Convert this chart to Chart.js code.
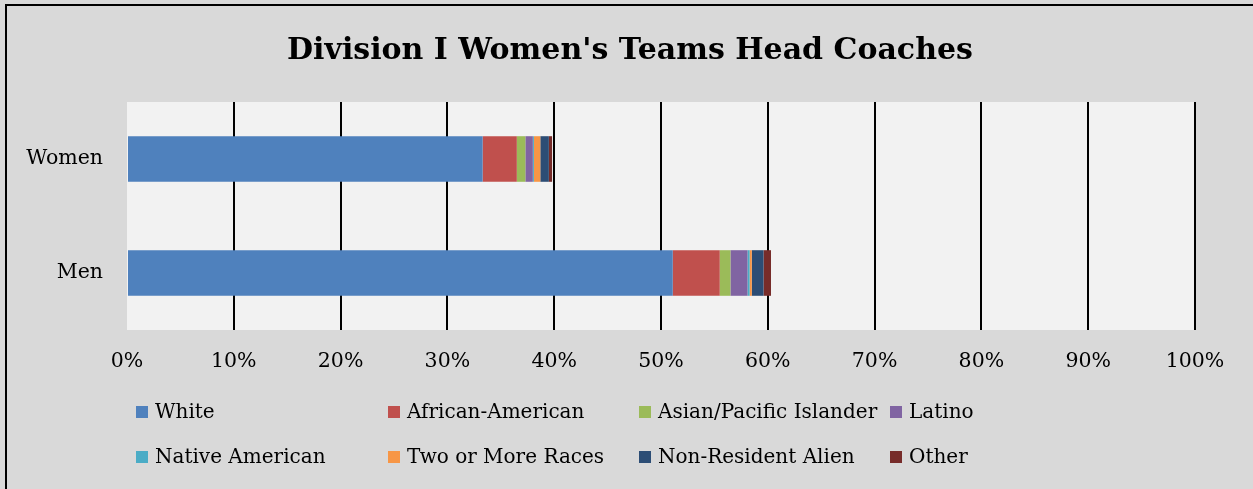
<!DOCTYPE html>
<html>
<head>
<meta charset="utf-8">
<script src="https://cdn.jsdelivr.net/npm/chart.js@4/dist/chart.umd.min.js"></script>
<style>
  html, body { margin: 0; padding: 0; background: #d9d9d9; }
  #wrap { position: relative; width: 1253px; height: 489px; overflow: hidden; background: #d9d9d9; }
  #frame { position: absolute; left: 5px; top: 4px; width: 1260px; height: 500px; border-left: 2px solid #000; border-top: 2px solid #000; }
  canvas { position: absolute; left: 7px; top: 0; }
  .leg { position: absolute; font-family: "DejaVu Serif", serif; font-size: 20px; color: #000; white-space: nowrap; }
  .leg span { display: inline-block; width: 12px; height: 12px; margin-right: 7px; vertical-align: 0px; }
</style>
</head>
<body>
<div id="wrap">
  <canvas id="chart" width="1246" height="489"></canvas>
  <div id="frame"></div>
  <div id="legend"></div>
</div>
<script>
const categories = ["Women", "Men"];
const seriesNames = ["White", "African-American", "Asian/Pacific Islander", "Latino",
                     "Native American", "Two or More Races", "Non-Resident Alien", "Other"];
const white    = [33.3, 51.1];
const african  = [3.2, 4.4];
const asian    = [0.8, 1.0];
const latino   = [0.7, 1.6];
const native   = [0.1, 0.2];
const twoMore  = [0.6, 0.2];
const nonRes   = [0.8, 1.1];
const other    = [0.3, 0.7];
const xTicks = [0, 10, 20, 30, 40, 50, 60, 70, 80, 90, 100];

const colors = ["#4f81bd", "#c0504d", "#9bbb59", "#8064a2", "#4bacc6", "#f79646", "#2c4d75", "#772c2a"];
const values = [white, african, asian, latino, native, twoMore, nonRes, other];

const datasets = seriesNames.map((name, i) => ({
  label: name,
  data: values[i],
  backgroundColor: colors[i],
  borderWidth: 0,
  barPercentage: 0.4,
  categoryPercentage: 1.0
}));

// light grey plot area
const plotBg = {
  id: "plotBg",
  beforeDraw(chart){
    const a = chart.chartArea, c = chart.ctx;
    c.save();
    c.fillStyle = "#f2f2f2";
    c.fillRect(a.left, a.top, a.right - a.left, a.bottom - a.top);
    c.restore();
  }
};

const serif = "'DejaVu Serif', serif";

new Chart(document.getElementById("chart"), {
  type: "bar",
  data: { labels: categories, datasets },
  plugins: [plotBg],
  options: {
    indexAxis: "y",
    responsive: false,
    animation: false,
    layout: { padding: { left: 0, right: 0, top: 0, bottom: 109 } },
    plugins: {
      legend: { display: false },
      tooltip: { enabled: false },
      title: {
        display: true,
        text: "Division I Women's Teams Head Coaches",
        color: "#000",
        font: { family: serif, size: 30, weight: "bold" },
        padding: { top: 33, bottom: 33 }
      }
    },
    scales: {
      x: {
        stacked: true,
        min: 0, max: 100,
        afterBuildTicks(s){ s.ticks = xTicks.map(v => ({ value: v })); },
        afterFit(s){ s.height = 50; },
        border: { display: false },
        grid: {
          color: ctx => ctx.tick && ctx.tick.value === 0 ? "rgba(0,0,0,0)" : "#000",
          lineWidth: 2,
          drawTicks: false
        },
        ticks: {
          padding: 19,
          color: "#000",
          font: { family: serif, size: 20.5 },
          callback: v => v + "%"
        }
      },
      y: {
        stacked: true,
        afterFit(s){ s.width = 120; },
        border: { display: false },
        grid: { display: false, drawTicks: false },
        ticks: {
          padding: 24,
          color: "#000",
          font: { family: serif, size: 20.5 }
        }
      },
      // empty right-hand margin so the title centres on the whole canvas
      yRight: {
        position: "right",
        display: true,
        afterFit(s){ s.width = 58; },
        grid: { display: false },
        border: { display: false },
        ticks: { display: false }
      }
    }
  }
});

// legend in four columns, two rows
const legX = [136, 388, 639, 890];
const legY = [399, 444];
const legend = document.getElementById("legend");
seriesNames.forEach((name, i) => {
  const d = document.createElement("div");
  d.className = "leg";
  d.style.left = legX[i % 4] + "px";
  d.style.top = legY[Math.floor(i / 4)] + "px";
  d.innerHTML = '<span style="background:' + colors[i] + '"></span>' + name;
  legend.appendChild(d);
});
</script>
</body>
</html>
